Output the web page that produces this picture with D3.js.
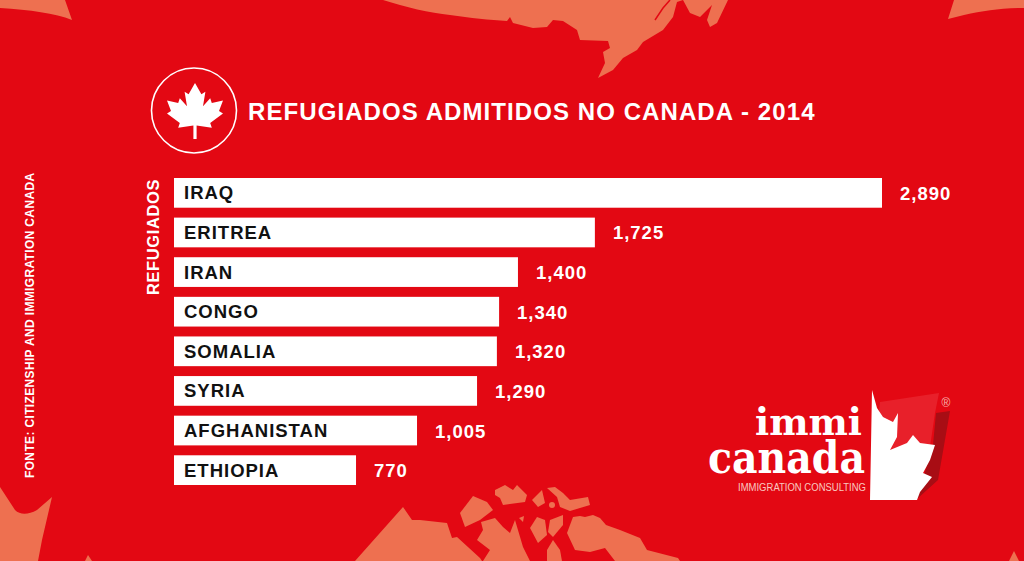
<!DOCTYPE html>
<html><head><meta charset="utf-8">
<style>html,body{margin:0;padding:0;background:#e30613;overflow:hidden}svg{display:block}</style>
<script src="https://cdn.jsdelivr.net/npm/d3@7/dist/d3.min.js"></script>
</head><body><svg id="c" width="1024" height="561" font-family="'Liberation Sans',Arial,sans-serif"></svg>
<script>
const categories=["IRAQ","ERITREA","IRAN","CONGO","SOMALIA","SYRIA","AFGHANISTAN","ETHIOPIA"];
// bar lengths as drawn in the picture (the printed labels differ slightly)
const barValues=[2890,1718,1404,1327,1318,1237,992,743];
const valueLabels=["2,890","1,725","1,400","1,340","1,320","1,290","1,005","770"];
const titleText="REFUGIADOS ADMITIDOS NO CANADA - 2014";
const axisTitle="REFUGIADOS";
const sourceText="FONTE: CITIZENSHIP AND IMMIGRATION CANADA";

const svg=d3.select("#c");
const land="#ee7050",red="#e30813";
svg.append("rect").attr("width",1024).attr("height",561).attr("fill",red);
// decorative backdrop (map fragments)
const deco=[
"M0,0L65,0L72,20C55,13 30,10 0,8Z",
"M948,19L954,0L1024,0L1024,8C1000,8 984,11 964,15Z",
"M383,0C405,7 430,13 450,15C470,18 490,20 507,21L510,17L513,23L533,28L547,27L553,20L563,21L577,30L580,40L608,41L610,48L603,52L605,63L598,78L613,70L623,58L637,50L643,42L663,30L673,17L677,2L683,0L690,13L700,17L712,5L707,20L710,27L717,23L728,0Z",
"M0,487L15,510C20,515 28,515 37,510L52,497L42,540L38,561L0,561Z",
"M85,561L88,555L92,561Z",
"M1009,561L1014,551L1019,561Z",
"M355,561L403,507L412,520L420,520L447,523L452,538L457,537L480,558L482,561Z",
"M460,513L473,496L487,502L493,510L480,520L465,527Z",
"M495,490L505,485L513,490L517,485L527,495L525,502L503,505L500,498L495,495Z",
"M532,500L542,490L545,503L538,507Z",
"M547,488L555,487L563,493L570,500L588,497L590,505L570,511L560,507L557,497Z",
"M481,522L495,518L503,527L510,533L515,520L523,547L530,561L483,561L490,550L477,540L483,530Z",
"M519,518L524,516L523,522Z",
"M530,528L537,517L545,520L547,535L538,543Z",
"M550,520L563,515L563,525L553,537L548,532Z",
"M547,550L553,540L560,550L562,561L547,561Z",
"M567,533L573,517L580,516L585,517L593,515L600,518L606,525L620,530L640,538L647,550L678,558L680,561L615,561L605,548L590,552L575,550Z"
];
svg.append("g").selectAll("path").data(deco).join("path").attr("d",d=>d).attr("fill",land);
svg.append("circle").attr("cx",552).attr("cy",505).attr("r",3).attr("fill",land);
svg.append("path").attr("d","M655,20L663,8L670,0").attr("fill","none").attr("stroke",red).attr("stroke-width",1.5);

// title + emblem
svg.append("circle").attr("cx",194).attr("cy",110.5).attr("r",42.5).attr("fill","none").attr("stroke","#fff").attr("stroke-width",1.6);
const leaf="M0,-37L-8,-23L-13,-26L-10,-8L-19,-18L-21,-12L-35,-15L-30,-2L-35,1L-19,13L-21,19L-2,16L-2,33L2,33L2,16L21,19L19,13L35,1L30,-2L35,-15L21,-12L19,-18L10,-8L13,-26L8,-23Z";
svg.append("path").attr("d",leaf).attr("transform","translate(195,112.6) scale(.8)").attr("fill","#fff");
svg.append("text").attr("x",248).attr("y",120).attr("fill","#fff").attr("font-size",24).attr("font-weight",700).attr("letter-spacing",1.08).text(titleText);

// bars
const x=d3.scaleLinear().domain([0,2890]).range([174,882]);
const y=d3.scaleBand().domain(categories).range([178,485]).paddingInner(0.25).paddingOuter(0);
const rows=categories.map((c,i)=>({c,v:barValues[i],l:valueLabels[i]}));
const g=svg.append("g");
g.selectAll("rect").data(rows).join("rect").attr("x",x(0)).attr("y",d=>y(d.c)).attr("width",d=>x(d.v)-x(0)).attr("height",y.bandwidth()).attr("fill","#fff");
g.selectAll(".cat").data(rows).join("text").attr("class","cat").attr("x",184).attr("y",d=>y(d.c)+y.bandwidth()/2+6.5).attr("fill","#111").attr("font-size",18.5).attr("font-weight",700).attr("letter-spacing",1).text(d=>d.c);
g.selectAll(".val").data(rows).join("text").attr("class","val").attr("x",d=>x(d.v)+18).attr("y",d=>y(d.c)+y.bandwidth()/2+7).attr("fill","#fff").attr("font-size",18.5).attr("font-weight",700).attr("letter-spacing",1).text(d=>d.l);

svg.append("text").attr("transform","translate(159,295) rotate(-90)").attr("fill","#fff").attr("font-size",16.5).attr("font-weight",700).attr("letter-spacing",.6).text(axisTitle);
svg.append("text").attr("transform","translate(34,478) rotate(-90)").attr("fill","#fff").attr("font-size",12).attr("font-weight",700).attr("letter-spacing",.35).text(sourceText);

// logo
const logo=svg.append("g");
logo.append("path").attr("d","M880,402L939,393L935,413L930,447L923,473L917,499L870,499Z").attr("fill","#e8202a");
logo.append("path").attr("d","M936,413L950,411L938,480L917,499L925,472L933,445Z").attr("fill","#a80d14");
logo.append("path").attr("d","M872,390L877,408L883,417L893,422L898,413L897,437L890,450L907,443L913,435L920,443L935,445L930,460L923,473L932,477L920,492L917,500L870,500Z").attr("fill","#fff");
logo.append("text").attr("x",946).attr("y",407).attr("text-anchor","middle").attr("fill","#f7b0a8").attr("font-size",12).text("®");
logo.append("text").attr("x",755).attr("y",435).attr("fill","#fff").attr("font-family","'DejaVu Serif'").attr("font-weight",700).attr("font-size",38).attr("textLength",107).attr("lengthAdjust","spacingAndGlyphs").text("immi");
logo.append("text").attr("x",708).attr("y",473).attr("fill","#fff").attr("font-family","'DejaVu Serif'").attr("font-weight",700).attr("font-size",44).attr("textLength",157).attr("lengthAdjust","spacingAndGlyphs").text("canada");
logo.append("text").attr("x",738).attr("y",491).attr("fill","#f9c8c0").attr("font-size",10).attr("textLength",128).attr("lengthAdjust","spacingAndGlyphs").text("IMMIGRATION CONSULTING");
</script></body></html>
